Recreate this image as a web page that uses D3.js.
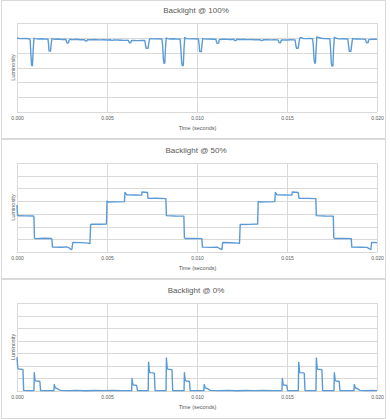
<!DOCTYPE html>
<html>
<head>
<meta charset="utf-8">
<script src="https://cdn.jsdelivr.net/npm/d3@7"></script>
<style>
  html, body { margin: 0; padding: 0; background: #ffffff; }
  svg { display: block; }
</style>
</head>
<body>
<svg id="chart" width="390" height="419"></svg>
<script>
// ---------------- DATA ----------------
const titles = ["Backlight @ 100%", "Backlight @ 50%", "Backlight @ 0%"];
const xTicks = [0, 0.005, 0.010, 0.015, 0.020];
const xTickLabels = ["0.000", "0.005", "0.010", "0.015", "0.020"];
const xAxisTitle = "Time (seconds)";
const yAxisTitle = "Luminosity";
const yMaxes = [6, 7, 7];

// [time in ms, luminosity]
const series100 = [
  [0,4.97],[0.2,4.95],[0.4,4.96],[0.6,4.94],[0.7,4.93],
  [0.73,4.85],[0.77,3.9],[0.81,3.15],[0.86,3.12],[0.9,4.2],[0.94,4.97],[1.0,4.95],
  [1.2,4.92],[1.4,4.94],[1.6,4.91],[1.72,4.92],
  [1.75,4.6],[1.78,4.12],[1.86,4.1],[1.9,4.6],[1.94,4.95],
  [2.1,4.9],[2.3,4.92],[2.5,4.89],[2.72,4.9],[2.76,4.7],[2.8,4.64],[2.86,4.66],[2.9,4.85],[2.95,4.9],
  [3.1,4.88],[3.3,4.9],[3.5,4.87],[3.75,4.88],[3.79,4.8],[3.88,4.79],[3.92,4.88],
  [4.1,4.87],[4.3,4.89],[4.6,4.86],[4.8,4.87],[5.0,4.85],[5.2,4.87],[5.25,4.83],[5.32,4.84],[5.37,4.86],
  [5.6,4.85],[5.8,4.84],[6.0,4.83],[6.18,4.84],
  [6.22,4.72],[6.26,4.66],[6.32,4.67],[6.36,4.83],
  [6.5,4.82],[6.7,4.81],[6.9,4.83],[7.1,4.82],
  [7.14,4.5],[7.18,4.3],[7.28,4.3],[7.32,4.6],[7.36,4.92],[7.4,4.95],
  [7.6,4.93],[7.8,4.94],[8.05,4.92],
  [8.09,4.5],[8.13,3.6],[8.17,3.28],[8.21,3.3],[8.25,4.3],[8.29,5.0],[8.35,4.95],
  [8.5,4.92],[8.7,4.94],[8.9,4.91],[9.06,4.92],
  [9.1,4.3],[9.15,3.3],[9.19,3.12],[9.24,3.15],[9.28,4.3],[9.32,5.02],[9.4,4.95],
  [9.6,4.93],[9.8,4.94],[10.08,4.92],
  [10.12,4.5],[10.15,4.08],[10.24,4.07],[10.28,4.6],[10.32,4.95],
  [10.5,4.91],[10.7,4.92],[10.9,4.9],[11.05,4.9],
  [11.09,4.7],[11.12,4.63],[11.2,4.65],[11.24,4.88],
  [11.4,4.9],[11.6,4.91],[11.8,4.89],[12.05,4.9],[12.09,4.82],[12.17,4.82],[12.21,4.9],
  [12.4,4.89],[12.6,4.9],[12.8,4.88],[13.0,4.89],[13.2,4.87],[13.5,4.88],
  [13.55,4.82],[13.65,4.83],[13.7,4.88],
  [13.9,4.87],[14.1,4.86],[14.3,4.87],[14.5,4.86],
  [14.54,4.72],[14.58,4.66],[14.64,4.67],[14.68,4.85],
  [14.85,4.86],[15.0,4.85],[15.2,4.87],[15.45,4.86],
  [15.49,4.5],[15.53,4.3],[15.62,4.3],[15.66,4.6],[15.7,4.95],[15.75,5.02],
  [15.9,4.96],[16.1,4.95],[16.25,4.96],[16.42,4.94],
  [16.46,4.5],[16.5,3.6],[16.54,3.3],[16.58,3.32],[16.62,4.3],[16.66,5.07],[16.75,5.02],
  [16.9,4.97],[17.1,4.95],[17.38,4.94],
  [17.42,4.3],[17.46,3.3],[17.5,3.1],[17.55,3.12],[17.59,4.3],[17.63,5.04],[17.72,4.97],
  [17.9,4.93],[18.1,4.94],[18.38,4.92],
  [18.42,4.5],[18.46,4.1],[18.55,4.1],[18.6,4.6],[18.64,4.95],
  [18.8,4.92],[19.0,4.93],[19.2,4.91],[19.36,4.9],
  [19.4,4.72],[19.44,4.66],[19.5,4.67],[19.54,4.88],
  [19.7,4.9],[19.85,4.91],[20,4.9]
];

const series50 = [
  [0,3.7],[0.03,2.9],[0.1,2.85],[0.5,2.84],[0.9,2.83],[0.94,2.8],
  [0.97,1.12],[1.02,1.05],[1.5,1.08],[1.9,1.06],[1.94,1.0],
  [1.97,0.38],[2.5,0.37],[2.75,0.4],[2.9,0.32],[3.0,0.2],[3.05,0.22],
  [3.1,0.76],[3.6,0.74],[3.95,0.7],[4.05,0.66],
  [4.09,2.15],[4.15,2.18],[4.6,2.18],[4.97,2.2],
  [5.0,4.0],[5.1,3.93],[5.5,3.94],[5.97,3.96],
  [6.0,4.68],[6.1,4.5],[6.5,4.48],[6.92,4.47],
  [6.95,4.72],[7.25,4.68],
  [7.28,4.22],[7.7,4.23],[8.27,4.2],
  [8.3,2.86],[8.8,2.83],[9.27,2.82],
  [9.3,1.12],[9.35,1.06],[9.8,1.07],[10.27,1.05],
  [10.3,0.38],[10.8,0.36],[11.15,0.37],[11.28,0.24],[11.38,0.2],
  [11.43,0.75],[11.9,0.73],[12.3,0.7],[12.36,0.67],
  [12.4,2.16],[12.9,2.17],[13.37,2.2],
  [13.4,3.98],[13.5,3.93],[13.9,3.94],[14.32,3.96],
  [14.35,4.68],[14.45,4.5],[14.9,4.48],[15.27,4.47],
  [15.3,4.72],[15.62,4.68],
  [15.67,4.22],[16.1,4.22],[16.6,4.2],
  [16.63,2.86],[17.1,2.83],[17.57,2.82],
  [17.6,1.12],[17.65,1.06],[18.1,1.07],[18.57,1.05],
  [18.6,0.38],[19.1,0.37],[19.45,0.36],[19.58,0.24],[19.66,0.2],
  [19.7,0.75],[19.85,0.76],[20,0.73]
];

const series0 = [
  [0,2.68],[0.04,1.85],[0.08,1.75],[0.3,1.72],[0.33,1.7],[0.37,0.05],
  [0.6,0.03],[0.94,0.03],
  [0.96,1.46],[1.0,0.85],[1.05,0.8],[1.24,0.78],[1.27,0.75],[1.31,0.04],
  [1.6,0.03],[2.05,0.04],
  [2.07,0.53],[2.13,0.25],[2.25,0.18],[2.4,0.05],
  [2.8,0.03],[3.3,0.05],[3.8,0.02],[4.3,0.04],[4.8,0.03],[5.3,0.05],[5.8,0.03],[6.37,0.03],
  [6.39,1.0],[6.44,0.5],[6.48,0.48],[6.62,0.46],[6.65,0.42],[6.69,0.04],
  [7.0,0.03],[7.29,0.03],
  [7.31,2.3],[7.36,1.5],[7.4,1.46],[7.6,1.44],[7.63,1.4],[7.67,0.04],
  [8.0,0.03],[8.28,0.03],
  [8.3,2.62],[8.35,1.78],[8.4,1.73],[8.58,1.7],[8.61,1.68],[8.65,0.04],
  [9.0,0.03],[9.28,0.03],
  [9.3,1.46],[9.35,0.85],[9.4,0.8],[9.55,0.78],[9.58,0.75],[9.62,0.04],
  [10.0,0.03],[10.38,0.03],
  [10.4,0.53],[10.46,0.25],[10.6,0.18],[10.73,0.05],
  [11.2,0.03],[11.7,0.05],[12.2,0.02],[12.7,0.04],[13.2,0.03],[13.7,0.05],[14.2,0.03],[14.72,0.03],
  [14.74,1.0],[14.79,0.5],[14.83,0.48],[14.96,0.46],[14.99,0.42],[15.03,0.04],
  [15.3,0.03],[15.63,0.03],
  [15.65,2.3],[15.7,1.5],[15.74,1.46],[15.93,1.44],[15.96,1.4],[16.0,0.04],
  [16.3,0.03],[16.61,0.03],
  [16.63,2.62],[16.68,1.78],[16.72,1.73],[16.91,1.7],[16.94,1.68],[16.98,0.04],
  [17.3,0.03],[17.61,0.03],
  [17.63,1.46],[17.68,0.85],[17.72,0.8],[17.87,0.78],[17.9,0.75],[17.94,0.04],
  [18.3,0.03],[18.72,0.03],
  [18.74,0.53],[18.8,0.25],[18.92,0.18],[19.05,0.05],
  [19.4,0.03],[19.7,0.04],[20,0.03]
];

const allSeries = [series100, series50, series0];

// ---------------- LAYOUT ----------------
const svg = d3.select("#chart");
const font = "'Liberation Sans', Arial, sans-serif";
const gridColor = "#d9d9d9";
const textColor = "#595959";
const lineColor = "#5b9bd5";

const panelTops = [0.5, 139.5, 279.5];
const panelBottoms = [138.5, 278.5, 418.5];
const plotTops = [23, 163, 303];
const plotBottoms = [112, 252, 391];
const plotLeft = 17, plotRight = 377;

allSeries.forEach((data, i) => {
  const g = svg.append("g");

  // panel border
  g.append("rect")
    .attr("x", 1.5).attr("y", panelTops[i])
    .attr("width", 384).attr("height", panelBottoms[i] - panelTops[i])
    .attr("fill", "#ffffff").attr("stroke", gridColor).attr("stroke-width", 1);

  const x = d3.scaleLinear().domain([0, 0.020]).range([plotLeft, plotRight]);
  const y = d3.scaleLinear().domain([0, yMaxes[i]]).range([plotBottoms[i], plotTops[i]]);

  // horizontal gridlines
  g.append("g").selectAll("line")
    .data(d3.range(0, yMaxes[i] + 1))
    .join("line")
    .attr("x1", plotLeft).attr("x2", plotRight)
    .attr("y1", d => Math.round(y(d)) + 0.5).attr("y2", d => Math.round(y(d)) + 0.5)
    .attr("stroke", gridColor).attr("stroke-width", 1);

  // vertical gridlines
  g.append("g").selectAll("line")
    .data(xTicks)
    .join("line")
    .attr("x1", d => Math.round(x(d)) + 0.5).attr("x2", d => Math.round(x(d)) + 0.5)
    .attr("y1", plotTops[i]).attr("y2", plotBottoms[i])
    .attr("stroke", gridColor).attr("stroke-width", 1);

  // x axis tick labels
  const axis = d3.axisBottom(x)
    .tickValues(xTicks)
    .tickFormat((d, k) => xTickLabels[k])
    .tickSize(0).tickPadding(0);
  const ax = g.append("g")
    .attr("transform", `translate(0,${plotBottoms[i] + 4})`)
    .call(axis);
  ax.select(".domain").remove();
  ax.selectAll("text")
    .attr("font-family", font).attr("font-size", 5)
    .attr("fill", textColor).attr("dy", "0.71em");

  // title
  g.append("text")
    .attr("x", 196).attr("y", plotTops[i] - 9.8)
    .attr("text-anchor", "middle")
    .attr("font-family", font).attr("font-size", 8)
    .attr("fill", textColor)
    .text(titles[i]);

  // x axis title
  g.append("text")
    .attr("x", (plotLeft + plotRight) / 2 + 0.5).attr("y", plotBottoms[i] + 18.3)
    .attr("text-anchor", "middle")
    .attr("font-family", font).attr("font-size", 5.5)
    .attr("fill", textColor)
    .text(xAxisTitle);

  // y axis title
  g.append("text")
    .attr("transform", `translate(15,${(plotTops[i] + plotBottoms[i]) / 2}) rotate(-90)`)
    .attr("text-anchor", "middle")
    .attr("font-family", font).attr("font-size", 5.5)
    .attr("fill", textColor)
    .text(yAxisTitle);

  // data line
  const line = d3.line()
    .x(d => x(d[0] / 1000))
    .y(d => y(d[1]));
  g.append("path")
    .datum(data)
    .attr("d", line)
    .attr("fill", "none")
    .attr("stroke", lineColor)
    .attr("stroke-width", 1.4)
    .attr("stroke-linejoin", "round");
});
</script>
</body>
</html>
